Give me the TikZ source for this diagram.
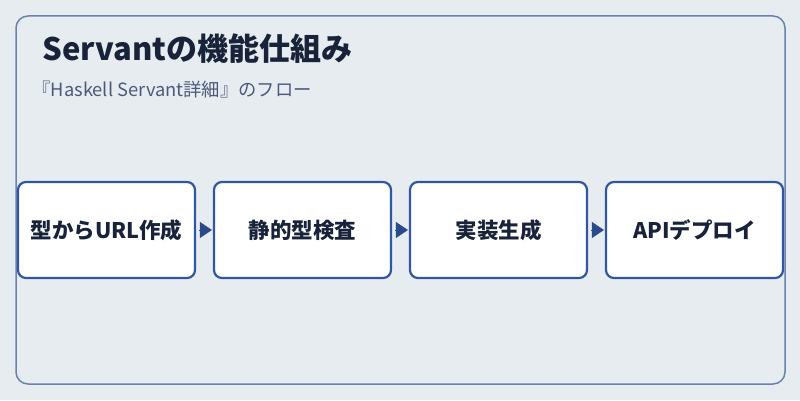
\documentclass[tikz,border=0pt]{standalone}
\usepackage{fontspec}
\setmainfont{Noto Sans CJK JP}
\usepackage{tikz}
\usetikzlibrary{arrows.meta}

\definecolor{bgc}{HTML}{E7ECF1}
\definecolor{framec}{HTML}{6B83AC}
\definecolor{boxc}{HTML}{3057A0}
\definecolor{arrc}{HTML}{2B4A8A}
\definecolor{titlec}{HTML}{18233A}
\definecolor{subc}{HTML}{4A5B7A}

\tikzset{
  stage/.style={draw=boxc, line width=2.2pt, fill=white, rounded corners=8pt,
    minimum width=177pt, minimum height=96pt, inner sep=0pt,
    font=\fontsize{21.5}{24}\selectfont\bfseries, text=titlec},
  flow/.style={-{Triangle[length=12pt,width=16pt]}, draw=arrc, fill=arrc, line width=0.5pt, shorten >=1pt, shorten <=3pt}
}

\begin{document}
\begin{tikzpicture}[x=1pt,y=1pt]
        \useasboundingbox (0,0) rectangle (800,400);
        \fill[bgc] (0,0) rectangle (800,400);
        \draw[framec, line width=1.5pt, rounded corners=12pt] (16,16) rectangle (785,384);

        \node[anchor=base west, text=titlec, font=\fontsize{31}{33}\selectfont\bfseries] (title) at (39,340) {Servantの機能仕組み};
        \node[anchor=base west, text=subc, font=\fontsize{18.3}{20}\selectfont] (sub) at (29,304) {『Haskell Servant詳細』のフロー};

        \node[stage] (url) at (106.5,170) {型からURL作成};
        \node[stage] (check) at (302.5,170) {静的型検査};
        \node[stage] (impl) at (498.5,170) {実装生成};
        \node[stage] (deploy) at (694.5,170) {APIデプロイ};

        \draw[flow] (url) -- (check);
        \draw[flow] (check) -- (impl);
        \draw[flow] (impl) -- (deploy);

      \end{tikzpicture}
\end{document}
